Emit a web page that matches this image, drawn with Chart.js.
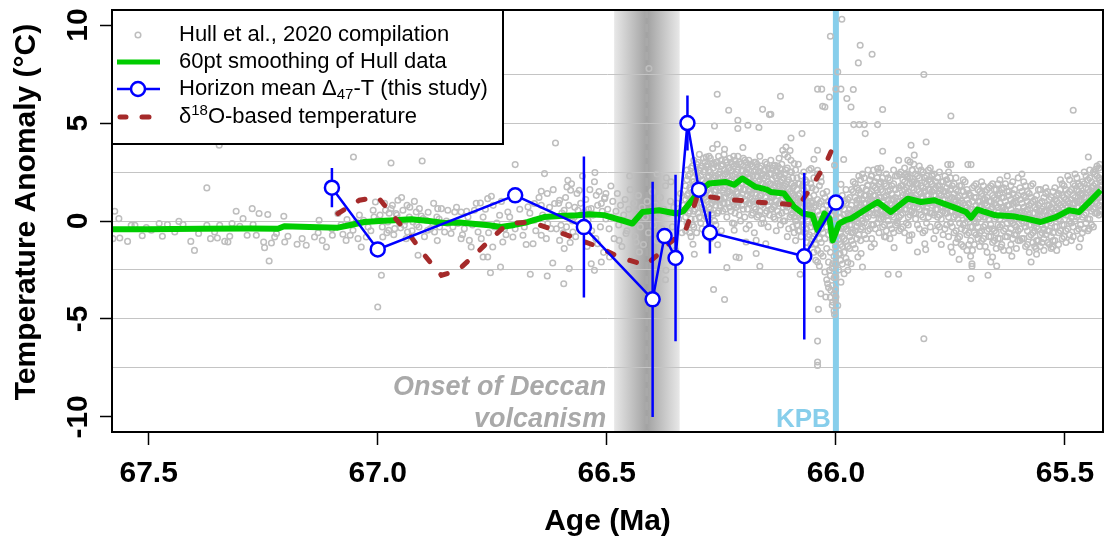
<!DOCTYPE html>
<html>
<head>
<meta charset="utf-8">
<script src="https://cdn.jsdelivr.net/npm/chart.js@4.4.0/dist/chart.umd.min.js"></script>
<style>
  body { margin: 0; background: #fff; }
  #wrap { width: 1104px; height: 538px; }
</style>
</head>
<body>
<div id="wrap"><canvas id="chart"></canvas></div>
<script>
// axis ticks
var xTicks = [67.5, 67.0, 66.5, 66.0, 65.5];
var yTicks = [-10, -7.5, -5, -2.5, 0, 2.5, 5, 7.5, 10];
var yLabels = [-10, -5, 0, 5, 10];

// events
var kpbAge = 66.0;
var deccanStart = 66.484, deccanMid = 66.413, deccanEnd = 66.341;

// Hull et al. 2020 compilation, scattered points [age, temp]
var hullPoints = [
  [67.574,0.50],[67.565,0.12],[67.578,-0.90],[67.563,-0.87],[67.546,-1.04],[67.538,-0.22],[67.530,-0.22],[67.505,-0.34],
  [67.514,-0.75],[67.494,-0.47],[67.477,-0.13],[67.470,-0.78],[67.459,-0.18],[67.443,-0.56],[67.434,-0.02],[67.425,-0.18],
  [67.408,-1.04],[67.400,-1.50],[67.391,-0.64],[67.373,1.69],[67.373,-0.22],[67.365,-0.90],[67.356,-0.56],[67.350,-0.87],
  [67.345,-0.22],[67.346,3.87],[67.334,-1.04],[67.327,-1.07],[67.323,-0.78],[67.318,-0.13],[67.309,0.50],[67.301,-0.27],
  [67.294,0.12],[67.285,-0.73],[67.274,0.63],[67.272,-0.18],[67.265,-0.73],[67.259,0.38],[67.249,-1.07],[67.247,-1.36],
  [67.240,0.33],[67.237,-2.04],[67.232,-1.12],[67.225,-0.82],
  [67.053,3.27],[66.971,2.96],[66.903,3.06],[67.205,0.24],[67.221,-0.64],[67.196,-0.78],[67.203,-1.07],[67.176,-1.19],
  [67.156,-1.24],[67.138,-0.82],[67.128,0.04],[67.121,-0.99],[67.112,-1.33],[67.099,-0.73],[67.087,0.38],[67.076,-0.68],
  [67.067,0.07],[67.060,-0.73],[67.047,-0.05],[67.043,-0.90],[67.036,-1.33],[67.031,0.04],[67.021,-0.31],[67.010,0.55],
  [67.005,0.97],[67.000,0.04],[66.992,-2.77],[67.000,-4.39],[66.989,-0.82],[66.983,0.55],[66.978,-0.05],[66.971,0.63],
  [66.956,1.06],[66.952,-0.13],[66.945,0.55],[66.942,-0.22],[66.936,0.80],[66.931,0.20],[66.923,-0.05],[66.916,0.46],
  [66.909,0.63],[66.910,-0.31],[66.894,0.04],[66.891,-0.47],[66.880,-0.13],[66.869,0.63],[66.865,-0.31],[66.912,-1.75],
  [67.069,-0.99],[67.054,-0.47],[67.025,-0.82],[66.976,-0.47],[66.963,-0.39],[66.960,0.38],[66.935,-0.56],[66.901,0.12],
  [66.876,-0.56],[66.871,0.20],
  [66.995,0.30],[66.990,-0.30],[66.985,0.90],[66.980,-0.60],[66.975,0.40],[66.968,0.80],[66.965,-0.70],[66.958,0.30],
  [66.950,-0.35],[66.948,1.20],[66.940,0.00],[66.938,-0.90],[66.930,0.70],[66.925,-0.50],[66.920,1.00],[66.915,-0.20],
  [66.905,0.25],[66.898,-0.80],[66.890,0.45],[66.885,-0.40],[66.878,0.90],[66.870,-1.00],[66.866,0.10],[67.015,-0.50],
  [67.008,0.20],[67.040,0.30],[67.080,-0.20],[67.100,-0.40],[67.130,-0.60],[67.165,-0.90],
  [66.612,3.98],[66.700,2.88],[66.636,2.42],[66.526,2.47],[66.585,2.08],[66.643,1.52],[66.630,1.40],[66.579,1.57],
  [66.587,1.74],[66.560,1.57],[66.760,1.14],[66.776,0.92],[66.752,1.26],[66.861,0.63],[66.847,0.55],[66.832,0.46],
  [66.818,0.46],[66.803,0.20],[66.789,0.55],[66.770,0.20],[66.734,0.29],[66.716,0.46],[66.672,0.72],[66.658,0.89],
  [66.643,0.80],[66.614,0.89],[66.603,1.06],[66.593,0.55],[66.854,-0.56],[66.840,-0.64],[66.818,-0.90],[66.800,-0.99],
  [66.796,-1.33],[66.781,-0.56],[66.770,-1.84],[66.760,-1.84],[66.749,-1.33],[66.732,-2.35],[66.754,-2.64],[66.727,-1.07],
  [66.705,-0.82],[66.683,-0.73],[66.667,-2.72],[66.661,-1.16],[66.643,-0.73],[66.630,-2.81],[66.618,-2.14],[66.603,-0.99],
  [66.594,-3.20],[66.582,-2.43],[66.593,-1.41],[66.574,-0.56],[66.534,-2.18],[66.527,-2.52],[66.512,-2.09],[66.520,-1.16],
  [66.541,0.04],[66.563,0.55],[66.534,0.63],[66.512,0.89],[66.523,1.31],[66.505,1.14],[66.694,-0.13],[66.680,-0.31],
  [66.629,-0.13],[66.622,-0.39],[66.847,-0.13],[66.825,-0.13],[66.811,-0.39],[66.745,-0.31],[66.723,-0.39],[66.658,0.04],
  [66.600,-0.22],[66.571,0.20],[66.549,0.46],
  [66.598,0.40],[66.595,-0.60],[66.590,1.20],[66.588,-0.30],[66.583,0.80],[66.580,-1.10],[66.577,1.90],[66.575,0.00],
  [66.570,0.70],[66.568,-0.80],[66.565,1.40],[66.560,-0.40],[66.557,0.90],[66.553,2.30],[66.550,-0.20],[66.546,1.10],
  [66.543,-1.30],[66.540,0.60],[66.537,1.60],[66.533,-0.50],[66.530,0.30],[66.527,2.00],[66.524,-0.90],[66.520,0.80],
  [66.517,1.50],[66.514,-0.30],[66.510,0.50],[66.507,-1.60],[66.504,1.20],[66.502,0.10],
  [66.850,0.00],[66.836,-0.30],[66.828,0.70],[66.815,-0.70],[66.806,0.50],[66.793,-0.20],[66.785,0.90],[66.774,-0.90],
  [66.765,0.60],[66.758,-0.60],[66.748,0.80],[66.740,-0.10],[66.730,1.00],[66.720,-0.70],[66.712,0.20],[66.700,-0.40],
  [66.690,0.60],[66.676,-1.20],[66.668,0.40],[66.655,-0.50],[66.648,1.20],[66.640,0.30],[66.632,-0.90],[66.625,0.70],
  [66.617,1.60],[66.610,-0.40],[66.605,0.90],
  [66.408,7.78],[66.372,-3.00],[66.371,-2.52],[66.494,-1.84],[66.473,-0.99],[66.458,-0.64],[66.436,-1.07],[66.429,-1.58],
  [66.443,-2.01],[66.491,1.79],[66.502,1.40],[66.370,2.20],[66.360,2.00],[66.390,2.40],[66.450,2.30],
  [66.498,0.60],[66.495,-0.40],[66.490,0.20],[66.487,1.00],[66.484,-0.90],[66.480,0.50],[66.477,1.40],[66.474,-0.20],
  [66.470,0.80],[66.467,-1.30],[66.463,0.30],[66.460,1.10],[66.456,-0.50],[66.452,0.60],[66.449,1.60],[66.445,-0.10],
  [66.441,0.90],[66.438,-0.80],[66.434,0.40],[66.431,1.30],[66.427,-0.30],[66.423,0.70],[66.420,-1.20],[66.416,0.20],
  [66.412,1.00],[66.409,-0.60],[66.405,0.50],[66.401,1.50],[66.398,-0.20],[66.394,0.80],[66.390,-1.00],[66.387,0.30],
  [66.383,1.20],[66.380,-0.40],[66.376,0.60],[66.372,1.80],[66.369,-0.70],[66.365,0.40],[66.361,1.00],[66.357,-0.30],
  [66.354,0.70],[66.350,-1.50],[66.346,0.90],[66.343,0.10],[66.339,1.40],[66.336,-0.60],[66.333,0.80],
  [66.259,6.47],[66.234,5.65],[66.160,5.70],[66.145,5.43],[66.214,5.14],[66.214,4.72],[66.192,4.89],[66.168,4.77],
  [66.265,4.85],[66.259,3.92],[66.243,3.66],[66.269,3.70],[66.283,3.27],[66.203,3.75],[66.267,-3.50],[66.243,-4.01],
  [66.309,-1.70],[66.312,-1.19],[66.218,-1.84],[66.211,-1.87],[66.238,-2.38],[66.166,-2.31],[66.258,-1.21],[66.196,-1.07],
  [66.174,-0.99],[66.153,-1.16],[66.174,-1.66],[66.163,-0.13],[66.189,-0.22],[66.222,-0.13],[66.222,-0.47],
  [65.987,10.30],[66.012,9.43],[65.947,8.97],[65.921,8.51],[65.951,8.07],[65.996,7.61],[65.808,7.48],[66.040,6.73],
  [66.031,6.73],[66.000,6.73],[65.989,6.73],[65.962,6.71],[66.121,6.37],[66.014,6.33],[65.976,6.25],[66.029,5.86],
  [66.024,5.82],[65.967,5.82],[65.898,5.69],[66.142,5.45],[65.961,4.92],[65.949,4.92],[65.938,4.92],[65.909,4.92],
  [65.936,4.46],[66.074,4.46],[66.098,4.24],[65.803,4.03],[65.836,3.87],[66.109,3.78],[66.116,3.61],[66.105,3.27],
  [66.040,3.61],[65.898,3.56],[65.829,3.36],[65.843,3.10],[65.838,3.01],[65.863,3.10],[66.048,3.15],[65.983,3.14],
  [66.098,3.10],[66.091,2.93],[66.133,2.84],[66.122,2.68],[66.054,2.68],[66.003,2.84],[65.909,2.68],[65.833,2.59],
  [65.923,2.30],[65.850,2.35],[65.845,2.25],[65.790,2.35],[66.040,2.59],[66.033,2.25],[65.989,1.87],[65.950,1.57],
  [65.931,1.82],[65.954,1.06],
  [66.033,-3.71],[66.038,-4.51],[66.003,-4.77],[66.040,-6.13],[66.040,-7.20],[66.040,-7.37],[65.808,-6.01],[65.886,-2.72],
  [65.863,-2.72],[66.078,-2.72],[66.000,-2.86],[66.014,-2.52],[66.007,-2.18],[66.018,-3.20],[66.011,-3.54],[66.000,-3.88],
  [66.007,-4.14],[65.996,-4.31],[66.022,-3.88],[65.982,-2.69],[65.974,-2.52],[65.989,-3.12],[65.967,-2.18],[65.952,-1.84],
  [65.942,-2.35],[65.945,-1.66],[66.033,-1.66],[66.040,-2.09],[66.044,-1.16],[65.991,-1.66],[65.923,-1.33],[65.916,-1.16],
  [65.891,-0.82],[65.873,-1.36],[65.840,-0.73],[65.840,-0.99],[65.822,-1.58],[65.806,-1.16],[65.804,-1.46],
  [65.749,5.36],[65.482,5.65],[65.449,3.27],[65.433,2.64],[65.756,2.88],[65.749,2.88],[65.712,2.88],[65.705,2.88],
  [65.705,-2.94],[65.703,-2.18],[65.703,-2.31],[65.668,-2.77],[65.649,-2.30],[65.731,-1.96],[65.749,-1.33],[65.616,-1.80],
  [65.574,-2.09],[65.662,-2.09],[65.658,-1.84],[65.640,-1.33],[65.563,-1.41],[65.527,-1.33],[65.469,-1.33],[65.447,-0.39]
];

// dense part of the compilation: [age, temps at that age]
var hullCloud = [
  [66.328,[0.2,1.1,-0.5,1.8,0.6]],[66.322,[0.9,2.3,-0.2,1.4,0.4]],[66.316,[1.6,0.1,2.7,0.8,-0.8]],
  [66.310,[1.2,2.0,0.5,3.1,-0.3]],[66.304,[2.4,0.9,1.7,-0.6,2.9]],[66.298,[1.5,0.2,2.6,1.1,3.4]],
  [66.292,[2.1,0.7,1.3,2.8,-0.4]],[66.286,[1.9,2.6,0.4,1.2,3.0]],[66.280,[2.2,1.0,0.1,2.9,1.6]],
  [66.274,[1.4,2.5,3.2,0.6,-0.9]],[66.268,[2.7,1.8,0.3,1.1,2.2]],[66.262,[1.6,3.0,0.8,2.3,-0.2]],
  [66.256,[2.4,1.3,3.3,0.5,1.9]],[66.250,[1.1,2.8,2.0,-0.5,3.1]],[66.244,[2.6,1.7,0.9,3.4,1.2]],
  [66.238,[2.0,3.0,1.4,0.2,2.5]],[66.232,[1.5,2.7,0.7,1.9,3.2]],[66.226,[2.3,1.0,2.9,1.6,-0.1]],
  [66.220,[1.8,3.1,0.4,2.4,1.1]],[66.214,[2.6,1.4,3.3,0.8,2.0]],[66.208,[1.2,2.2,2.9,0.0,1.7]],
  [66.202,[2.8,1.6,0.6,3.2,2.3]],[66.196,[1.9,2.5,1.0,-0.4,3.0]],[66.190,[2.2,0.9,3.1,1.5,2.6]],
  [66.184,[1.4,2.8,0.3,2.0,1.1]],[66.178,[2.5,1.7,3.0,0.7,-0.6]],[66.172,[1.0,2.3,1.6,2.9,0.2]],
  [66.166,[2.1,0.5,2.7,1.3,3.3]],[66.160,[1.6,2.4,0.1,1.9,0.9]],[66.154,[2.6,1.2,3.0,0.4,1.8]],
  [66.148,[0.8,2.0,1.5,2.7,-0.3]],[66.142,[1.9,0.6,2.4,1.2,3.1]],[66.136,[1.3,2.8,0.2,1.7,0.7]],
  [66.130,[2.2,1.0,2.6,-0.5,1.5]],[66.124,[0.9,1.8,3.2,0.3,2.3]],[66.118,[1.6,0.4,2.1,2.9,1.1]],
  [66.112,[2.4,1.3,0.0,1.8,3.4]],[66.106,[0.7,2.0,1.4,-0.8,2.7]],[66.100,[1.5,0.2,2.5,1.0,3.6]],
  [66.094,[0.4,1.7,-0.3,2.2,1.1]],[66.088,[1.2,0.0,2.6,0.8,-1.0]],[66.082,[0.6,1.9,-0.5,1.3,2.9]],
  [66.076,[0.1,1.0,2.3,-0.8,0.7]],[66.070,[0.9,-0.2,1.6,2.5,0.3]],[66.064,[-0.4,0.6,1.4,-1.1,2.0]],
  [66.058,[0.3,1.2,-0.7,0.8,2.6]],[66.052,[-0.1,0.9,1.7,-0.9,0.4]],
  [66.325,[1.3,-0.1,2.1,0.7,2.6]],[66.319,[0.5,1.7,-0.6,2.4,1.0]],[66.313,[2.0,0.8,1.4,-0.2,2.8]],
  [66.307,[0.6,2.5,1.9,0.1,1.3]],[66.301,[1.8,0.4,3.0,1.2,2.2]],[66.295,[0.9,2.3,1.5,-0.1,2.7]],
  [66.289,[2.5,1.4,0.6,3.2,1.8]],[66.283,[1.1,2.0,2.8,0.2,1.5]],[66.277,[2.6,0.7,1.7,2.3,3.3]],
  [66.271,[1.8,2.9,0.9,2.1,0.4]],[66.265,[1.0,2.2,2.9,1.5,0.0]],[66.259,[2.8,1.1,2.0,0.4,3.0]],
  [66.253,[1.7,2.5,0.8,2.2,1.3]],[66.247,[2.3,0.5,1.6,2.9,0.9]],[66.241,[1.2,2.4,3.1,1.8,0.6]],
  [66.235,[2.7,1.9,0.9,2.3,1.5]],[66.229,[1.3,2.1,3.0,0.5,2.6]],[66.223,[2.0,2.8,1.2,3.3,0.8]],
  [66.217,[1.5,0.7,2.5,1.9,2.9]],[66.211,[2.3,3.0,1.0,1.7,0.3]],[66.205,[1.9,2.6,0.8,2.2,1.4]],
  [66.199,[1.1,2.1,3.1,1.6,0.2]],[66.193,[2.7,1.3,2.0,0.6,2.4]],[66.187,[1.6,2.9,0.9,2.2,1.2]],
  [66.181,[2.3,1.0,1.9,2.8,0.4]],[66.175,[1.4,2.6,0.6,1.8,3.0]],[66.169,[2.0,1.2,2.5,0.3,1.6]],
  [66.163,[1.3,2.8,1.9,0.8,2.3]],[66.157,[2.2,0.9,1.5,2.6,-0.1]],[66.151,[1.0,1.7,2.3,0.5,2.9]],
  [66.145,[2.4,1.4,0.3,1.9,1.0]],[66.139,[0.6,2.1,1.6,2.7,1.2]],[66.133,[1.8,0.8,2.3,0.1,1.4]],
  [66.127,[1.3,2.5,0.5,1.9,2.8]],[66.121,[2.0,0.9,1.5,-0.2,2.4]],[66.115,[1.1,2.2,0.7,1.7,0.0]],
  [66.109,[1.9,0.5,2.6,1.2,0.8]],[66.103,[0.9,1.6,-0.4,2.1,1.3]],[66.097,[1.4,0.3,1.9,0.8,2.5]],
  [66.091,[0.2,1.3,0.6,1.8,-0.6]],[66.085,[0.9,1.6,-0.2,2.2,0.4]],[66.079,[1.4,0.3,0.9,-0.5,1.9]],
  [66.073,[0.5,1.8,-0.3,1.1,0.0]],[66.067,[1.2,0.2,2.1,-0.6,0.8]],[66.061,[0.0,0.9,1.7,-0.8,0.5]],
  [66.055,[1.0,-0.3,0.6,1.9,-1.2]],
  [66.048,[0.2,-0.8,1.3,-1.6,2.2,0.7]],[66.044,[-0.3,0.8,-1.2,1.6,-2.0,0.1]],[66.040,[0.5,-0.6,1.1,-1.5,2.4,-0.2]],
  [66.036,[-0.9,0.3,1.8,-2.3,0.9]],[66.032,[0.1,-1.1,1.0,-0.4,2.0]],[66.028,[-0.6,0.6,-1.8,1.4,-0.1]],
  [66.024,[0.4,-0.9,1.2,-2.6,0.0]],[66.020,[-0.3,0.8,-1.4,-3.0,1.5]],[66.016,[0.2,-0.7,-2.1,1.0,-3.4]],
  [66.012,[-0.5,0.6,-1.6,-2.8,-3.9]],[66.008,[-1.0,0.3,-2.4,-3.3,-4.3]],[66.004,[-0.7,-1.8,0.5,-2.9,-3.7,-4.6]],
  [66.001,[-1.3,-2.2,0.1,-3.5,-4.0]],
  [65.994,[-0.9,0.4,-1.7,-2.5,0.9,-0.3]],[65.986,[-0.4,0.8,-1.3,-2.2,1.3,-0.8]],[65.978,[0.1,-1.0,0.9,-1.9,-0.4,1.6]],
  [65.970,[-0.2,0.6,-1.4,1.2,-0.8,0.3]],[65.962,[0.5,-0.6,1.5,-1.2,0.2,2.0]],[65.954,[0.0,0.9,-0.9,1.7,-0.3,0.6]],
  [65.946,[0.8,-0.4,1.4,2.1,-1.0,0.3]],[65.938,[0.4,1.3,-0.7,0.9,2.2,-0.1]],[65.930,[1.1,0.2,1.8,-0.5,2.6,0.7]],
  [65.922,[0.6,1.5,-0.2,2.3,1.0,-0.9]],[65.914,[1.3,0.4,2.0,0.9,-0.4,1.7]],[65.906,[0.8,1.9,0.1,2.5,1.2,-0.6]],
  [65.898,[1.5,0.5,2.2,-0.3,1.0,0.2]],[65.890,[0.3,1.3,-0.5,1.8,0.8,2.4]],[65.882,[0.9,-0.2,1.6,0.4,2.1,-0.9]],
  [65.874,[0.2,1.1,-0.6,1.9,0.6,2.6]],[65.866,[1.4,0.5,2.3,-0.1,1.0,0.0]],[65.858,[0.7,1.8,-0.4,2.5,1.2,0.3]],
  [65.850,[1.6,0.6,2.0,-0.6,1.1,2.7]],[65.842,[1.0,2.3,0.2,1.5,-0.2,0.8]],[65.834,[1.7,0.5,2.6,1.2,-0.7,2.0]],
  [65.826,[0.9,1.9,0.1,2.4,1.3,0.4]],[65.818,[1.5,0.6,2.2,-0.4,1.0,2.8]],[65.810,[0.8,1.7,0.2,2.5,1.2,-0.6]],
  [65.802,[1.9,0.7,1.3,2.3,-0.1,0.5]],[65.794,[1.1,2.0,0.4,1.6,2.7,-0.3]],[65.786,[1.6,0.3,2.4,0.9,1.3,-0.9]],
  [65.778,[0.6,1.8,1.1,2.2,-0.2,0.2]],[65.770,[1.3,0.1,2.0,0.7,1.6,-1.2]],[65.762,[0.8,1.5,-0.4,2.3,0.4,1.1]],
  [65.754,[1.4,0.2,1.9,-0.8,0.9,2.5]],[65.746,[0.5,1.2,-0.3,1.8,0.8,-1.6]],[65.738,[1.0,-0.5,1.6,0.3,2.2,-1.1]],
  [65.730,[0.4,1.3,-0.8,0.9,1.8,-0.1]],[65.722,[0.9,-0.2,1.5,-1.3,0.5,2.1]],[65.714,[0.2,1.1,-0.7,0.7,-1.5,1.6]],
  [65.706,[-0.3,0.6,1.3,-1.0,0.2,-1.8]],[65.698,[0.5,-0.6,1.2,0.0,1.8,-1.2]],[65.690,[1.0,0.1,-0.9,1.6,0.6,-0.3]],
  [65.682,[0.3,1.4,-0.5,0.8,2.0,-1.0]],[65.674,[0.9,-0.2,1.5,0.2,-1.3,1.1]],[65.666,[0.1,1.0,-0.8,1.7,0.5,-0.4]],
  [65.658,[0.7,-0.4,1.3,-1.1,0.3,1.9]],[65.650,[0.2,1.1,-0.6,0.8,1.6,-1.4]],[65.642,[0.9,-0.3,1.4,0.1,-0.9,2.1]],
  [65.634,[0.4,1.2,-0.5,0.7,-1.5,1.7]],[65.626,[-0.1,0.8,1.5,-0.8,0.3,2.3]],[65.618,[0.6,-0.4,1.1,0.0,-1.2,1.8]],
  [65.610,[0.1,1.0,-0.7,1.6,0.4,-0.2]],[65.602,[0.7,-0.5,1.3,2.2,-1.0,0.3]],[65.594,[0.0,0.9,-0.9,1.5,0.5,2.4]],
  [65.586,[0.5,-0.3,1.2,-1.3,0.2,1.8]],[65.578,[-0.2,0.8,-0.8,1.4,0.3,-1.6]],[65.570,[0.4,-0.6,1.0,-1.1,1.9,0.0]],
  [65.562,[-0.3,0.6,-1.0,1.3,0.1,-1.7]],[65.554,[0.2,-0.7,0.9,-1.3,0.5,1.6]],[65.546,[-0.4,0.5,1.2,-0.9,0.0,-1.5]],
  [65.538,[0.3,-0.5,0.8,1.5,-1.1,0.1]],[65.530,[-0.1,0.7,-0.8,1.2,0.4,-1.4]],[65.522,[0.5,-0.3,1.1,-1.0,1.7,0.2]],
  [65.514,[0.1,0.9,-0.6,1.4,0.6,-1.2]],[65.506,[0.7,-0.2,1.3,0.3,-0.9,1.9]],[65.498,[0.3,1.1,-0.5,1.6,0.8,-1.1]],
  [65.490,[0.9,0.0,1.5,-0.7,2.1,0.5]],[65.482,[0.4,1.3,-0.3,1.9,0.9,-0.8]],[65.474,[1.0,0.2,1.6,-0.5,0.7,2.2]],
  [65.466,[0.5,1.4,-0.2,1.1,-0.9,1.8]],[65.458,[1.2,0.3,1.9,0.7,-0.4,2.5]],[65.450,[0.8,1.6,0.1,2.1,1.0,-0.5]],
  [65.442,[1.4,0.5,2.0,0.9,1.7,-0.2]],[65.434,[1.0,1.9,0.4,2.4,1.3,0.7]],[65.426,[1.6,0.8,2.2,1.2,0.3,2.7]],
  [65.420,[1.3,2.0,0.6,1.8,1.0]],
  [65.990,[-0.6,0.2,-1.2,-2.0,0.7,-0.1]],[65.982,[0.3,-0.9,-1.6,1.0,-0.3,0.6]],[65.974,[-0.5,0.4,1.1,-1.3,0.0,-2.1]],
  [65.966,[0.8,-0.2,0.3,-1.0,1.6,-0.6]],[65.958,[0.2,1.2,-0.5,0.6,-1.4,1.9]],[65.950,[0.7,-0.1,1.1,2.3,-0.7,0.4]],
  [65.942,[1.1,0.0,1.7,-0.3,0.6,2.4]],[65.934,[0.5,1.6,0.9,-0.9,1.3,0.1]],[65.926,[1.4,0.4,2.1,0.8,-0.4,1.0]],
  [65.918,[0.9,1.8,0.3,1.3,2.6,-0.2]],[65.910,[1.6,0.6,1.1,2.2,-0.1,0.4]],[65.902,[0.5,1.2,2.0,0.1,1.6,2.7]],
  [65.894,[1.2,-0.2,0.7,1.9,0.4,-0.8]],[65.886,[0.6,1.5,0.0,2.2,1.1,0.3]],[65.878,[1.1,0.3,1.8,-0.4,0.8,1.4]],
  [65.870,[0.5,1.6,0.9,2.3,-0.2,1.2]],[65.862,[1.0,0.2,1.7,0.6,2.4,-0.5]],[65.854,[1.3,2.1,0.4,1.0,-0.3,1.8]],
  [65.846,[0.6,1.4,2.4,0.9,1.7,-0.1]],[65.838,[1.9,0.8,1.3,2.2,0.3,1.1]],[65.830,[1.2,2.0,0.4,1.6,2.9,0.7]],
  [65.822,[0.7,1.6,2.3,1.1,-0.2,1.9]],[65.814,[1.4,0.3,1.8,2.6,0.9,1.2]],[65.806,[1.0,2.2,0.5,1.5,-0.5,2.0]],
  [65.798,[1.6,0.9,2.1,0.2,1.3,2.6]],[65.790,[0.8,1.5,1.9,0.4,2.3,1.0]],[65.782,[1.3,0.6,2.0,-0.5,1.7,0.9]],
  [65.774,[0.9,1.8,0.3,1.4,2.5,-0.3]],[65.766,[1.5,0.5,1.1,2.0,-0.7,0.7]],[65.758,[0.4,1.3,2.1,0.8,1.7,-0.2]],
  [65.750,[1.1,-0.1,1.6,0.5,2.2,0.9]],[65.742,[0.7,1.4,-0.6,1.9,0.2,1.1]],[65.734,[1.2,0.1,0.8,-0.9,1.5,0.4]],
  [65.726,[0.3,1.0,1.8,-0.4,0.7,-1.2]],[65.718,[0.8,-0.5,1.3,0.4,2.0,-0.1]],[65.710,[0.1,0.9,-1.2,1.4,0.5,-0.6]],
  [65.702,[0.6,-0.3,1.0,-1.5,1.7,0.2]],[65.694,[-0.1,1.2,0.4,1.9,-0.7,0.8]],[65.686,[0.7,-0.6,1.5,0.2,1.0,-1.3]],
  [65.678,[0.2,1.1,-0.3,1.8,0.6,-0.9]],[65.670,[0.8,1.6,-0.5,0.4,1.2,-1.6]],[65.662,[0.3,-0.8,1.0,1.8,-0.2,0.6]],
  [65.654,[0.9,0.1,1.6,-0.5,1.2,-1.0]],[65.646,[0.4,1.3,-0.9,0.7,-0.2,1.9]],[65.638,[-0.2,0.7,1.2,-1.2,0.3,1.6]],
  [65.630,[0.6,-0.4,1.0,1.9,-0.8,0.2]],[65.622,[0.2,1.3,-0.6,0.8,-1.5,1.5]],[65.614,[0.9,-0.1,1.4,0.4,-0.9,2.0]],
  [65.606,[-0.3,0.5,1.2,-0.7,0.9,-1.4]],[65.598,[0.4,1.1,-0.4,1.7,0.1,-1.0]],[65.590,[-0.1,0.7,1.3,-0.9,0.4,2.0]],
  [65.582,[0.6,-0.5,1.0,0.2,-1.2,1.5]],[65.574,[0.1,0.9,-0.7,1.2,-0.2,1.8]],[65.566,[-0.5,0.4,1.1,-1.3,0.7,-0.1]],
  [65.558,[0.3,-0.4,0.8,1.6,-1.0,0.0]],[65.550,[-0.2,0.6,-1.1,1.0,0.3,-0.6]],[65.542,[0.5,-0.2,1.4,-0.7,0.1,1.7]],
  [65.534,[0.0,0.8,-0.5,1.1,-1.2,0.4]],[65.526,[0.6,-0.6,0.9,1.5,0.2,-1.0]],[65.518,[0.2,1.0,-0.3,0.7,-1.5,1.3]],
  [65.510,[0.8,0.0,1.6,-0.5,0.4,2.1]],[65.502,[0.4,1.2,-0.8,0.9,1.8,-0.2]],[65.494,[1.0,0.3,1.4,-0.4,0.7,2.3]],
  [65.486,[0.6,1.6,-0.1,1.1,-1.0,0.2]],[65.478,[1.2,0.4,1.8,0.0,2.4,0.9]],[65.470,[0.7,1.5,-0.4,1.0,0.3,1.9]],
  [65.462,[1.3,0.2,2.0,0.8,-0.6,1.4]],[65.454,[0.9,1.7,0.4,2.3,-0.1,1.2]],[65.446,[1.5,0.7,2.2,1.0,0.1,2.6]],
  [65.438,[1.1,1.8,0.6,2.5,1.4,-0.3]],[65.430,[1.7,0.9,2.3,1.3,0.4,2.8]],[65.424,[1.2,2.1,0.8,1.6,2.9,0.5]]
];

// 60pt smoothing of Hull data
var smoothAge = [67.581, 67.5, 67.389, 67.28, 67.218, 67.204, 67.149, 67.087, 67.062, 67.029, 66.996, 66.964,
  66.927, 66.888, 66.855, 66.822, 66.781, 66.757, 66.731, 66.702, 66.672, 66.637, 66.604, 66.563, 66.539, 66.506,
  66.48, 66.462, 66.444, 66.422, 66.386, 66.349, 66.333, 66.32, 66.299, 66.277, 66.24, 66.222, 66.204, 66.175,
  66.15, 66.142, 66.113, 66.091, 66.072, 66.051, 66.04, 66.025, 66.014, 66.007, 65.993, 65.979, 65.967, 65.938,
  65.909, 65.88, 65.843, 65.814, 65.785, 65.745, 65.716, 65.705, 65.691, 65.651, 65.614, 65.585, 65.553, 65.52,
  65.491, 65.469, 65.447, 65.422];
var smoothTemp = [-0.42, -0.42, -0.40, -0.38, -0.40, -0.27, -0.30, -0.34, -0.22, -0.05, 0.0, 0.04,
  0.09, 0.0, -0.10, -0.08, -0.17, -0.22, -0.31, -0.20, -0.05, 0.20, 0.25, 0.29, 0.35, 0.30,
  0.12, 0.0, -0.13, 0.46, 0.55, 0.38, 0.50, 0.89, 1.50, 1.91, 1.99, 1.85, 2.17, 1.74,
  1.60, 1.48, 1.40, 0.72, 0.38, 0.29, -0.47, 0.38, 0.12, -0.99, -0.13, 0.04, 0.12, 0.55,
  0.97, 0.46, 1.14, 0.97, 1.06, 0.72, 0.46, 0.17, 0.58, 0.29, 0.24, 0.12, -0.05, 0.20,
  0.55, 0.46, 0.97, 1.57];

// horizon mean clumped isotope temperatures with error bar half-widths
var horizonAge  = [67.10, 67.00, 66.70, 66.55, 66.40, 66.374, 66.35, 66.324, 66.299, 66.275, 66.069, 66.00];
var horizonTemp = [1.70, -1.45, 1.31, -0.31, -4.00, -0.77, -1.89, 5.00, 1.60, -0.59, -1.80, 0.94];
var horizonErr  = [1.00, 0.30, 0.30, 3.60, 6.00, 0.30, 4.25, 1.40, 0.30, 1.07, 4.25, 0.30];

// d18O-based temperature
var d18oAge = [67.087, 67.040, 67.000, 66.964, 66.927, 66.898, 66.861, 66.825, 66.789, 66.752, 66.716, 66.665,
  66.614, 66.567, 66.517, 66.474, 66.415, 66.386, 66.364, 66.328, 66.310, 66.302, 66.277, 66.227, 66.175, 66.124,
  66.081, 66.051, 66.022, 66.000];
var d18oTemp = [0.38, 1.06, 1.23, 0.20, -0.82, -1.75, -2.77, -2.52, -1.75, -0.90, -0.13, -0.05,
  -0.47, -0.90, -1.33, -1.84, -2.26, -1.66, -1.14, -0.47, 0.72, 1.31, 1.23, 1.09, 0.97, 0.89,
  0.80, 1.82, 2.93, 4.12];

var FONT = '"Liberation Sans", Arial, Helvetica, sans-serif';
var GRAY = '#bebebe', GREEN = '#00cc00', BLUE = '#0000ff', BROWN = '#a52a2a', SKY = '#87ceeb';

var hullData = hullPoints.map(function (p) { return { x: p[0], y: p[1] }; });
hullCloud.forEach(function (r) {
  r[1].forEach(function (t) { hullData.push({ x: r[0], y: t }); });
});

function pairs(xs, ys) {
  return xs.map(function (v, i) { return { x: v, y: ys[i] }; });
}

var barData = [];
horizonAge.forEach(function (a, i) {
  barData.push({ x: a, y: horizonTemp[i] - horizonErr[i] });
  barData.push({ x: a, y: horizonTemp[i] + horizonErr[i] });
  barData.push({ x: a, y: null });
});

var decor = {
  id: 'decor',
  beforeDraw: function (chart) {
    var ctx = chart.ctx, a = chart.chartArea, x = chart.scales.x;
    var x1 = x.getPixelForValue(deccanStart), x2 = x.getPixelForValue(deccanEnd), xm = x.getPixelForValue(deccanMid);
    var g = ctx.createLinearGradient(x1, 0, x2, 0);
    g.addColorStop(0, '#e8e8e8');
    g.addColorStop(0.5, '#a2a2a2');
    g.addColorStop(1, '#e8e8e8');
    ctx.save();
    ctx.fillStyle = g;
    ctx.fillRect(x1, a.top, x2 - x1, a.bottom - a.top);
    ctx.setLineDash([8, 6]);
    ctx.strokeStyle = '#a9a9a9';
    ctx.lineWidth = 3;
    ctx.beginPath();
    ctx.moveTo(xm, a.top);
    ctx.lineTo(xm, a.bottom);
    ctx.stroke();
    ctx.restore();
  },
  beforeDatasetsDraw: function (chart) {
    var ctx = chart.ctx, a = chart.chartArea, x = chart.scales.x;
    var xk = x.getPixelForValue(kpbAge);
    ctx.save();
    ctx.strokeStyle = SKY;
    ctx.lineWidth = 6;
    ctx.beginPath();
    ctx.moveTo(xk, a.top);
    ctx.lineTo(xk, a.bottom);
    ctx.stroke();
    ctx.fillStyle = SKY;
    ctx.font = 'bold 26px ' + FONT;
    ctx.textAlign = 'right';
    ctx.textBaseline = 'alphabetic';
    ctx.fillText('KPB', xk - 5, a.bottom - 5);
    var xd = x.getPixelForValue(deccanStart);
    ctx.fillStyle = '#a9a9a9';
    ctx.font = 'italic bold 27px ' + FONT;
    ctx.fillText('Onset of Deccan', xd - 8, a.bottom - 37);
    ctx.fillText('volcanism', xd - 8, a.bottom - 5);
    ctx.restore();
  },
  afterDraw: function (chart) {
    var ctx = chart.ctx, a = chart.chartArea, x = chart.scales.x, y = chart.scales.y;
    ctx.save();
    // frame
    ctx.strokeStyle = '#000';
    ctx.lineWidth = 2;
    ctx.strokeRect(a.left, a.top, a.right - a.left, a.bottom - a.top);

    // tick labels
    ctx.fillStyle = '#000';
    ctx.font = 'bold 30px ' + FONT;
    ctx.textAlign = 'center';
    ctx.textBaseline = 'alphabetic';
    xTicks.forEach(function (v) {
      ctx.fillText(v.toFixed(1), x.getPixelForValue(v), a.bottom + 50);
    });
    yLabels.forEach(function (v) {
      ctx.save();
      ctx.translate(a.left - 25, y.getPixelForValue(v));
      ctx.rotate(-Math.PI / 2);
      ctx.fillText(String(v), 0, 0);
      ctx.restore();
    });

    // axis titles
    ctx.save();
    ctx.translate(35, 212);
    ctx.rotate(-Math.PI / 2);
    ctx.fillText('Temperature Anomaly (\u00B0C)', 0, 0);
    ctx.restore();
    ctx.fillText('Age (Ma)', (a.left + a.right) / 2, 530);

    // legend
    var lx = a.left, ly = a.top, lw = 391, lh = 134;
    ctx.fillStyle = '#fff';
    ctx.fillRect(lx, ly, lw, lh);
    ctx.strokeStyle = '#000';
    ctx.lineWidth = 2;
    ctx.strokeRect(lx, ly, lw, lh);

    var sx = lx + 26, tx = lx + 67;
    var rows = [ly + 25, ly + 52, ly + 79, ly + 107];

    ctx.strokeStyle = GRAY;
    ctx.lineWidth = 1.5;
    ctx.beginPath();
    ctx.arc(sx, rows[0], 2.8, 0, Math.PI * 2);
    ctx.stroke();

    ctx.strokeStyle = GREEN;
    ctx.lineWidth = 5;
    ctx.beginPath();
    ctx.moveTo(sx - 21, rows[1]);
    ctx.lineTo(sx + 22, rows[1]);
    ctx.stroke();

    ctx.strokeStyle = BLUE;
    ctx.lineWidth = 2.5;
    ctx.beginPath();
    ctx.moveTo(sx - 21, rows[2]);
    ctx.lineTo(sx + 22, rows[2]);
    ctx.stroke();
    ctx.fillStyle = '#fff';
    ctx.beginPath();
    ctx.arc(sx, rows[2], 7, 0, Math.PI * 2);
    ctx.fill();
    ctx.stroke();

    ctx.strokeStyle = BROWN;
    ctx.lineWidth = 5;
    ctx.lineCap = 'round';
    ctx.beginPath();
    ctx.moveTo(sx - 18, rows[3]);
    ctx.lineTo(sx - 12, rows[3]);
    ctx.moveTo(sx + 4, rows[3]);
    ctx.lineTo(sx + 11, rows[3]);
    ctx.stroke();

    ctx.fillStyle = '#000';
    ctx.textAlign = 'left';
    ctx.textBaseline = 'middle';
    ctx.font = '22px ' + FONT;
    ctx.fillText('Hull et al., 2020 compilation', tx, rows[0]);
    ctx.fillText('60pt smoothing of Hull data', tx, rows[1]);

    var t = 'Horizon mean \u0394';
    ctx.fillText(t, tx, rows[2]);
    var w = ctx.measureText(t).width;
    ctx.font = '15px ' + FONT;
    ctx.fillText('47', tx + w, rows[2] + 6);
    w += ctx.measureText('47').width;
    ctx.font = '22px ' + FONT;
    ctx.fillText('-T (this study)', tx + w, rows[2]);

    ctx.fillText('\u03B4', tx, rows[3]);
    w = ctx.measureText('\u03B4').width;
    ctx.font = '15px ' + FONT;
    ctx.fillText('18', tx + w, rows[3] - 6);
    w += ctx.measureText('18').width;
    ctx.font = '22px ' + FONT;
    ctx.fillText('O-based temperature', tx + w, rows[3]);
    ctx.restore();
  }
};

new Chart(document.getElementById('chart').getContext('2d'), {
  type: 'scatter',
  data: {
    datasets: [{
      label: 'Horizon mean \u039447-T (this study)',
      data: pairs(horizonAge, horizonTemp),
      showLine: true,
      borderColor: BLUE,
      borderWidth: 2.5,
      pointRadius: 7,
      pointBorderWidth: 2.5,
      pointBorderColor: BLUE,
      pointBackgroundColor: '#fff'
    }, {
      label: 'error bars',
      data: barData,
      showLine: true,
      spanGaps: false,
      borderColor: BLUE,
      borderWidth: 2.5,
      pointRadius: 0
    }, {
      label: '\u03B418O-based temperature',
      data: pairs(d18oAge, d18oTemp),
      showLine: true,
      borderColor: BROWN,
      borderWidth: 5,
      borderDash: [7, 17],
      borderCapStyle: 'round',
      pointRadius: 0
    }, {
      label: '60pt smoothing of Hull data',
      data: pairs(smoothAge, smoothTemp),
      showLine: true,
      borderColor: GREEN,
      borderWidth: 6,
      borderJoinStyle: 'round',
      pointRadius: 0
    }, {
      label: 'Hull et al., 2020 compilation',
      data: hullData,
      pointRadius: 2.8,
      pointBorderWidth: 1.5,
      pointBorderColor: GRAY,
      pointBackgroundColor: 'rgba(0,0,0,0)'
    }]
  },
  options: {
    responsive: true,
    maintainAspectRatio: false,
    animation: false,
    events: [],
    layout: { autoPadding: false, padding: { top: 10, right: 1, left: 0, bottom: 0 } },
    plugins: { legend: { display: false }, tooltip: { enabled: false } },
    scales: {
      x: {
        type: 'linear',
        reverse: true,
        min: 65.417,
        max: 67.58,
        afterBuildTicks: function (s) { s.ticks = xTicks.map(function (v) { return { value: v }; }); },
        afterFit: function (s) { s.height = 106; },
        ticks: { display: false },
        grid: { drawOnChartArea: false, drawTicks: true, tickLength: 13, tickColor: '#000', tickWidth: 1.5 },
        border: { display: false }
      },
      y: {
        type: 'linear',
        min: -10.77,
        max: 10.77,
        afterBuildTicks: function (s) { s.ticks = yTicks.map(function (v) { return { value: v }; }); },
        afterFit: function (s) { s.width = 112; },
        ticks: { display: false },
        grid: {
          color: function (c) { return c.tick && Math.abs(c.tick.value) < 10 ? '#c4c4c4' : 'rgba(0,0,0,0)'; },
          tickColor: function (c) { return c.tick && c.tick.value % 5 === 0 ? '#000' : 'rgba(0,0,0,0)'; },
          lineWidth: 1,
          tickLength: 12,
          tickWidth: 1.5
        },
        border: { display: false }
      }
    }
  },
  plugins: [decor]
});
</script>
</body>
</html>
